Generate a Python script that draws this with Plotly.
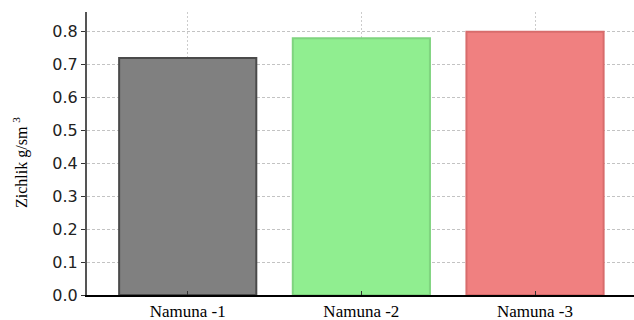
import plotly.graph_objects as go

categories = ["Namuna -1", "Namuna -2", "Namuna -3"]
values = [0.72, 0.78, 0.80]
fill_colors = ["rgba(128,128,128,1)", "rgba(144,238,144,1)", "rgba(240,128,128,1)"]
edge_colors = ["#4a4a4a", "#7fd47f", "#d86c6c"]
y_ticks = [0.0, 0.1, 0.2, 0.3, 0.4, 0.5, 0.6, 0.7, 0.8]
y_title = "Zichlik g/sm <sup>3</sup>"

SERIF = "Liberation Serif, Times New Roman, serif"

fig = go.Figure()
fig.add_trace(go.Bar(
    x=list(range(len(categories))), y=values,
    marker=dict(color=fill_colors, line=dict(color=edge_colors, width=2)),
    width=0.79,
))

fig.add_annotation(
    text=y_title, xref="paper", yref="paper", x=-0.1207, y=0.47,
    xanchor="center", yanchor="middle", textangle=-90, showarrow=False,
    font=dict(family=SERIF, size=16, color="black"),
)

fig.update_layout(
    width=634, height=320,
    margin=dict(l=87, r=0, t=12, b=25),
    paper_bgcolor="white", plot_bgcolor="white",
    showlegend=False,
    xaxis=dict(
        range=[-0.58, 2.57],
        tickmode="array", tickvals=list(range(len(categories))), ticktext=categories,
        tickfont=dict(family=SERIF, size=17, color="black"),
        showgrid=True, gridcolor="rgba(170,170,170,0.6)", griddash="2px,2px", gridwidth=1,
        showline=True, linecolor="black", linewidth=2,
        ticks="inside", ticklen=4, tickcolor="#333",
        zeroline=False, automargin=False, layer="above traces",
    ),
    yaxis=dict(
        range=[0, 0.86],
        tickmode="array", tickvals=y_ticks, ticktext=[f"{v:.1f}" for v in y_ticks],
        tickfont=dict(family="DejaVu Sans", size=16, color="#222"),
        showgrid=True, gridcolor="rgba(170,170,170,0.7)", griddash="3px,2px", gridwidth=1,
        showline=True, linecolor="#555", linewidth=2,
        ticks="outside", ticklen=4, tickcolor="#333",
        zeroline=False, automargin=False, layer="above traces",
    ),
)

fig.write_html("out.html", config={"displayModeBar": False},
               post_script="document.body.style.margin='0';document.body.style.overflow='hidden';")
